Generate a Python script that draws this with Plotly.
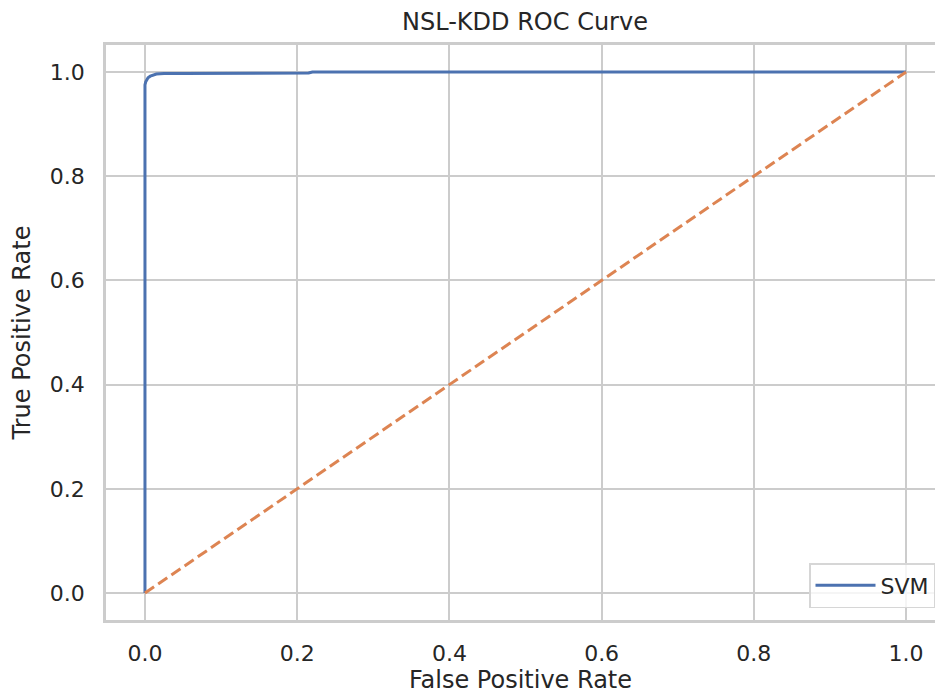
import plotly.graph_objects as go

# ROC data
fpr = [0.0, 0.0, 0.0, 0.001, 0.002, 0.004, 0.007, 0.01, 0.015, 0.02, 0.025, 0.05, 0.1, 0.15, 0.215, 0.22, 0.5, 1.0]
tpr = [0.0, 0.95, 0.975, 0.981, 0.985, 0.989, 0.992, 0.994, 0.996, 0.9965, 0.997, 0.997, 0.997, 0.997, 0.998, 1.0, 1.0, 1.0]
diag_x = [0.0, 1.0]
diag_y = [0.0, 1.0]
ticks = [0.0, 0.2, 0.4, 0.6, 0.8, 1.0]

TXT = "#262626"
GRID = "#cccccc"
FONT = "DejaVu Sans"

fig = go.Figure()
fig.add_trace(go.Scatter(x=fpr, y=tpr, mode="lines", name="SVM",
                         line=dict(color="#4c72b0", width=3)))
fig.add_trace(go.Scatter(x=diag_x, y=diag_y, mode="lines", showlegend=False,
                         line=dict(color="#dd8452", width=3, dash="11px,5px")))

fig.update_layout(
    width=935, height=694,
    margin=dict(l=106, r=0, t=45, b=74),
    paper_bgcolor="white", plot_bgcolor="white",
    font=dict(family=FONT, color=TXT, size=22),
    title=dict(text="NSL-KDD ROC Curve", x=525/935, xanchor="center",
               y=1 - 22/694, yanchor="middle", font=dict(size=24, color=TXT)),
    legend=dict(x=1.0, xanchor="right", y=12/575, yanchor="bottom",
                bgcolor="rgba(255,255,255,0.8)", bordercolor="#d6d6d6", borderwidth=1.5,
                itemwidth=60, font=dict(size=22, color=TXT)),
    showlegend=True,
)

fig.update_xaxes(
    range=[-0.0512, 1.038], tickvals=ticks, tickformat=".1f",
    showgrid=True, gridcolor=GRID, gridwidth=2, zeroline=False,
    showline=True, linecolor=GRID, linewidth=2.5, mirror=True,
    ticks="outside", ticklen=12, tickcolor="rgba(0,0,0,0)",
    tickfont=dict(size=22, color=TXT),
    title=dict(text="False Positive Rate", font=dict(size=24, color=TXT), standoff=12),
)
fig.update_yaxes(
    range=[-0.0518, 1.0518], tickvals=ticks, tickformat=".1f",
    showgrid=True, gridcolor=GRID, gridwidth=2, zeroline=False,
    showline=True, linecolor=GRID, linewidth=2.5, mirror=False,
    ticks="outside", ticklen=14, tickcolor="rgba(0,0,0,0)",
    tickfont=dict(size=22, color=TXT),
    title=dict(text="True Positive Rate", font=dict(size=24, color=TXT), standoff=13),
)

fig.write_html("out.html", config={"displayModeBar": False},
               post_script="document.body.style.margin='0';document.body.style.overflow='hidden';")
